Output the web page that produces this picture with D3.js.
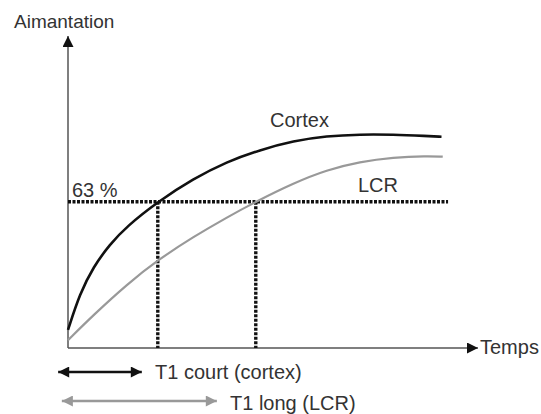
<!DOCTYPE html>
<html>
<head>
<meta charset="utf-8">
<script src="https://cdn.jsdelivr.net/npm/d3@7"></script>
<style>
  body { margin: 0; background: #fff; }
  text { font-family: "Liberation Sans", Arial, sans-serif; fill: #333; }
</style>
</head>
<body>
<script>
// values (time and magnetisation in % of equilibrium)
var cortexT = [0, 2.9, 6.2, 10.2, 14.3, 21.9, 30.6, 38.7, 46.8, 55.0, 63.1, 71.2, 79.3, 87.5, 91.1];
var cortexM = [7.8, 23.5, 35.0, 44.6, 52.3, 63.0, 72.9, 80.2, 85.3, 89.2, 91.3, 92.0, 91.9, 91.3, 91.0];
var lcrT = [0, 6.2, 14.3, 21.9, 30.6, 38.7, 45.8, 55.0, 63.1, 71.2, 79.3, 87.5, 91.4];
var lcrM = [3.4, 14.2, 27.3, 37.9, 47.9, 56.2, 63.0, 71.0, 76.7, 80.2, 82.1, 82.7, 82.4];
var level = 63;
var t1Court = 21.9;
var t1Long = 45.8;
var levelEnd = 92.7;
var legendNames = ["T1 court (cortex)", "T1 long (LCR)"];
var legendSpans = [[-2.4, 18.0], [-1.5, 36.3]];
var legendColors = ["#111", "#999"];

var w = 541, h = 414;

var svg = d3.select("body").append("svg")
    .attr("width", w)
    .attr("height", h);

var x = d3.scaleLinear().domain([0, 100]).range([68, 478]);
var y = d3.scaleLinear().domain([0, 100]).range([348, 115.8]);

var defs = svg.append("defs");
function marker(id, color, orient, mw, mh) {
    defs.append("marker")
        .attr("id", id)
        .attr("viewBox", "0 0 10 10")
        .attr("refX", 10).attr("refY", 5)
        .attr("markerUnits", "userSpaceOnUse")
        .attr("markerWidth", mw).attr("markerHeight", mh)
        .attr("orient", orient)
        .append("path")
        .attr("d", "M0,0 L10,5 L0,10 Z")
        .attr("fill", color);
}
marker("axisHead", "#111", "auto", 20, 11);
marker("blackHead", "#111", "auto-start-reverse", 15, 11);
marker("grayHead", "#999", "auto-start-reverse", 15, 11);

// axes (no ticks, just arrows)
svg.append("line")
    .attr("x1", x(0)).attr("y1", y(0))
    .attr("x2", x(0)).attr("y2", 36)
    .attr("stroke", "#555").attr("stroke-width", 1.5)
    .attr("marker-end", "url(#axisHead)");
svg.append("line")
    .attr("x1", x(0)).attr("y1", y(0))
    .attr("x2", x(100)).attr("y2", y(0))
    .attr("stroke", "#555").attr("stroke-width", 1.5)
    .attr("marker-end", "url(#axisHead)");

svg.append("text").attr("x", 14).attr("y", 28)
    .style("font-size", "19px").text("Aimantation");
svg.append("text").attr("x", x(100) + 2).attr("y", y(0) + 6)
    .style("font-size", "20px").text("Temps");

// 63 % guides
var dots = svg.append("g")
    .attr("stroke", "#111").attr("stroke-width", 3.4)
    .attr("stroke-dasharray", "3,1.5");
dots.append("line")
    .attr("x1", x(0)).attr("x2", x(levelEnd))
    .attr("y1", y(level)).attr("y2", y(level));
[t1Court, t1Long].forEach(function (t) {
    dots.append("line")
        .attr("x1", x(t)).attr("x2", x(t))
        .attr("y1", y(level)).attr("y2", y(0));
});

// curves
var line = d3.line()
    .x(function (d) { return x(d[0]); })
    .y(function (d) { return y(d[1]); })
    .curve(d3.curveBasis);

svg.append("path")
    .datum(d3.zip(lcrT, lcrM))
    .attr("d", line)
    .attr("fill", "none").attr("stroke", "#999").attr("stroke-width", 2.2);
svg.append("path")
    .datum(d3.zip(cortexT, cortexM))
    .attr("d", line)
    .attr("fill", "none").attr("stroke", "#111").attr("stroke-width", 2.6);

svg.append("text").attr("x", 72).attr("y", 197)
    .style("font-size", "20px").text("63 %");
svg.append("text").attr("x", 270).attr("y", 127)
    .style("font-size", "20px").text("Cortex");
svg.append("text").attr("x", 358).attr("y", 192)
    .style("font-size", "20px").text("LCR");

// legend double arrows
var legY = [372, 401];
var legTextX = [155, 230];
legendNames.forEach(function (name, i) {
    svg.append("line")
        .attr("x1", x(legendSpans[i][0])).attr("x2", x(legendSpans[i][1]))
        .attr("y1", legY[i]).attr("y2", legY[i])
        .attr("stroke", legendColors[i]).attr("stroke-width", 2.5)
        .attr("marker-start", i === 0 ? "url(#blackHead)" : "url(#grayHead)")
        .attr("marker-end", i === 0 ? "url(#blackHead)" : "url(#grayHead)");
    svg.append("text")
        .attr("x", legTextX[i]).attr("y", legY[i] + 7 + (i === 1 ? 2 : 0))
        .style("font-size", "20px")
        .text(name);
});
</script>
</body>
</html>
